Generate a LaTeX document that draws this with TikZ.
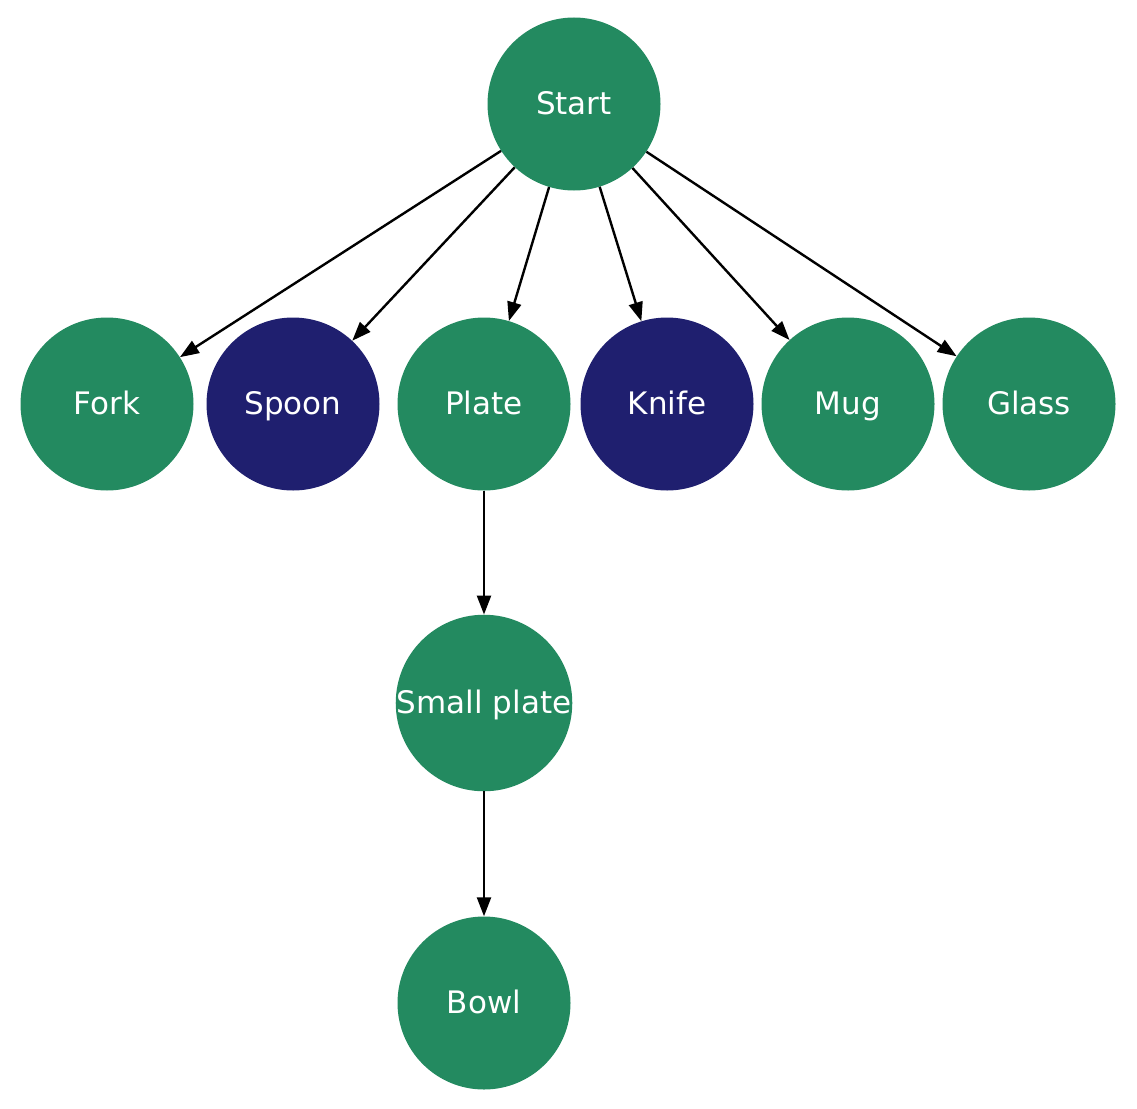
\documentclass[tikz,border=0pt]{standalone}
\usepackage{fontspec}
\setmainfont{DejaVu Sans}
\usetikzlibrary{arrows.meta}
\definecolor{dishgreen}{RGB}{35,138,96}
\definecolor{dishblue}{RGB}{31,31,111}
\tikzset{
    item/.style={circle, fill=dishgreen, text=white, minimum size=173pt,
        inner sep=0pt, text height=24pt, text depth=4pt,
        font=\fontsize{31pt}{36pt}\selectfont},
    cutlery/.style={item, fill=dishblue},
    link/.style={draw, line width=2.4pt, -{Triangle[length=19pt,width=14pt]}}
}

\begin{document}
\begin{tikzpicture}[x=1pt, y=-1pt]
\useasboundingbox (0,0) rectangle (1137,1108);

\node[item] (start) at (574,104) {Start};

\node[item] (fork) at (107,404) {Fork};
\node[cutlery] (spoon) at (293,404) {Spoon};
\node[item] (plate) at (484,404) {Plate};
\node[cutlery] (knife) at (667,404) {Knife};
\node[item] (mug) at (848,404) {Mug};
\node[item] (glass) at (1029,404) {Glass};

\node[item] (smallplate) at (484,703) {Small plate};
\node[item] (bowl) at (484,1003) {Bowl};

\foreach \n in {fork,spoon,plate,knife,mug,glass}
    \draw[link] (start) -- (\n);
\draw[link] (plate) -- (smallplate);
\draw[link] (smallplate) -- (bowl);
\end{tikzpicture}
\end{document}
